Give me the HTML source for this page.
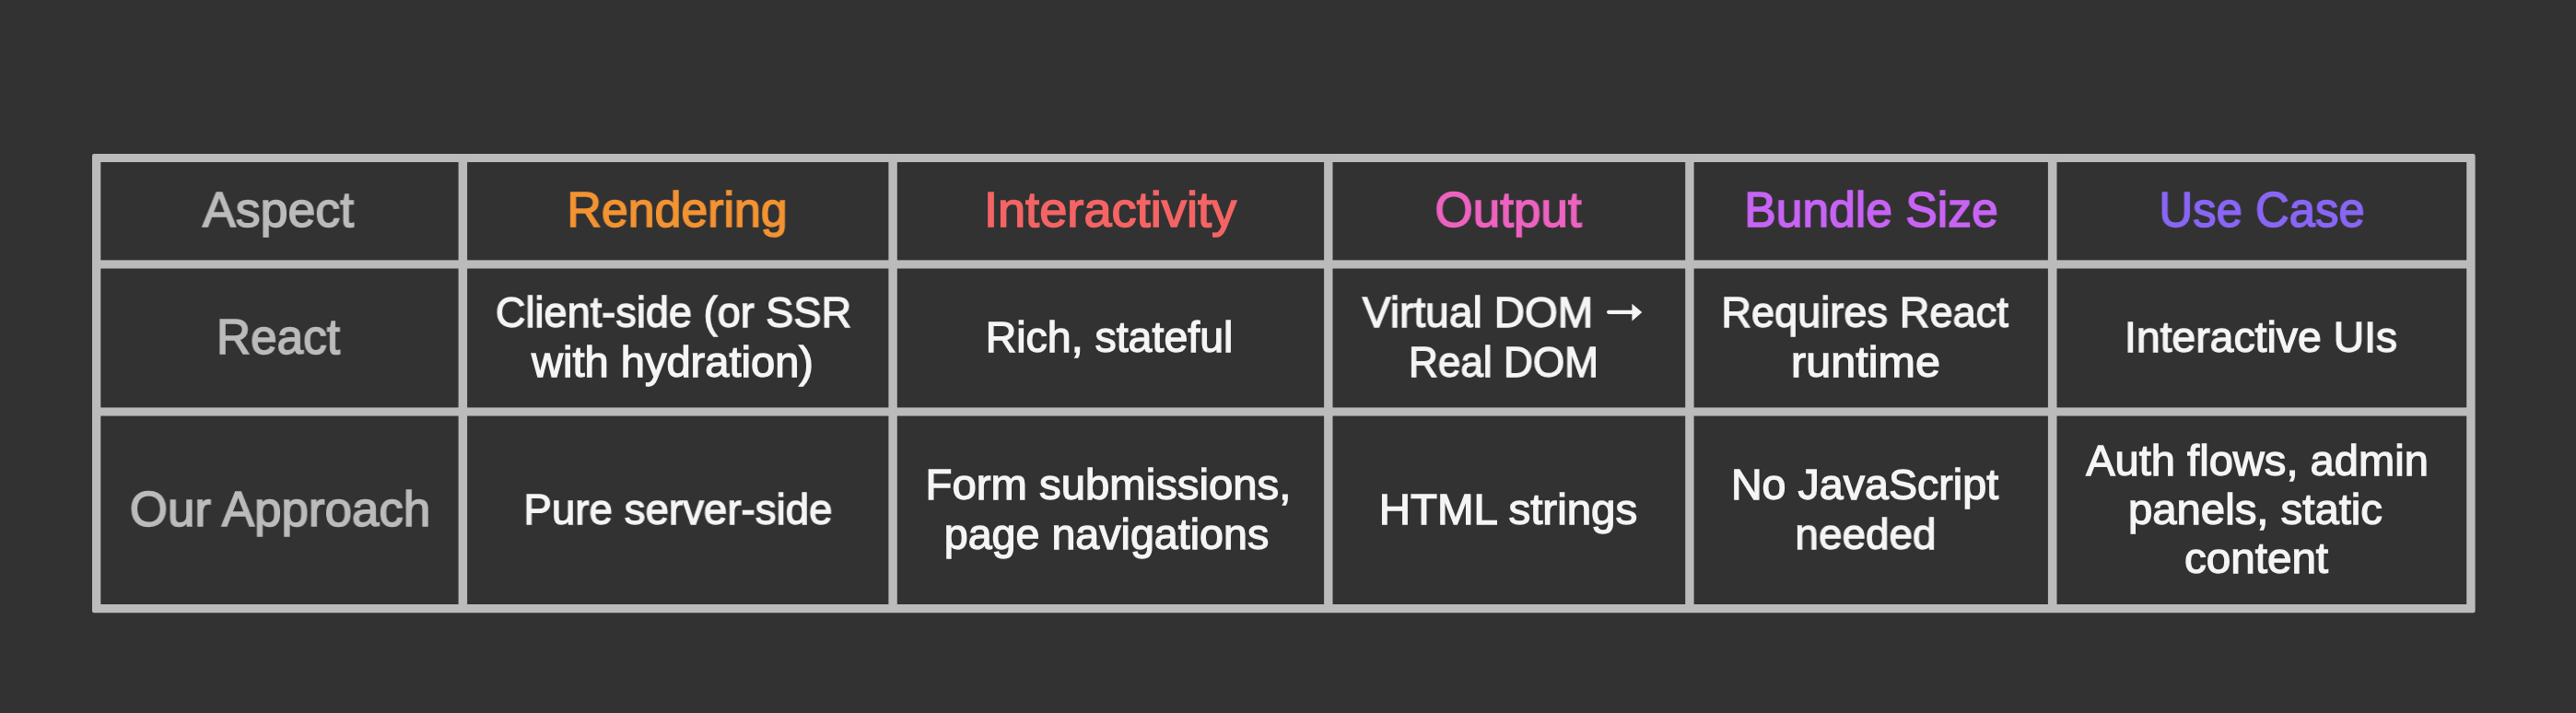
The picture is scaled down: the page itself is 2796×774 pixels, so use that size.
<!DOCTYPE html>
<html><head><meta charset="utf-8"><style>
html,body{margin:0;padding:0;}
body{width:2796px;height:774px;background:#323232;position:relative;overflow:hidden;font-family:"Liberation Sans",sans-serif;}
#wrap{position:absolute;left:0;top:0;width:2796px;height:774px;}
.v,.h{position:absolute;background:#bbbbbb;}
.t{position:absolute;width:1000px;text-align:center;white-space:pre;line-height:100px;height:100px;will-change:transform;-webkit-text-stroke:1.0px currentColor;}
.H{font-size:54.0px;-webkit-text-stroke-width:1.6px;}
.B{font-size:46.4px;-webkit-text-stroke-width:1.3px;}
</style></head><body><div id="wrap">

<svg style="position:absolute;left:0;top:0" width="2796" height="774" fill="#bbbbbb"><path fill-rule="evenodd" d="M102.0 167.0 H2684.6 Q2686.6 167.0 2686.6 169.0 V663.2 Q2686.6 665.2 2684.6 665.2 H102.0 Q100.0 665.2 100.0 663.2 V169.0 Q100.0 167.0 102.0 167.0 Z M109.3 176.1 H2677.2 V656.1 H109.3 Z"/><rect x="497.6" y="172.1" width="9.50" height="488.00"/><rect x="964.4" y="172.1" width="9.40" height="488.00"/><rect x="1437.1" y="172.1" width="9.40" height="488.00"/><rect x="1829.2" y="172.1" width="9.40" height="488.00"/><rect x="2222.9" y="172.1" width="9.60" height="488.00"/><rect x="105.3" y="282.4" width="2575.90" height="9.10"/><rect x="105.3" y="442.4" width="2575.90" height="9.10"/></svg>
<div class="t H" id="t0" style="left:-197.80px;top:177.00px;color:#bbbbbb;transform:scaleX(0.9948)"><span>Aspect</span><i style="display:inline-block;width:0;height:0;vertical-align:baseline"></i></div>
<div class="t H" id="t1" style="left:235.20px;top:177.00px;color:#f39332;transform:scaleX(0.9607)"><span>Rendering</span><i style="display:inline-block;width:0;height:0;vertical-align:baseline"></i></div>
<div class="t H" id="t2" style="left:704.70px;top:177.01px;color:#f56464;transform:scaleX(1.0041)"><span>Interactivity</span><i style="display:inline-block;width:0;height:0;vertical-align:baseline"></i></div>
<div class="t H" id="t3" style="left:1136.90px;top:177.00px;color:#ee62c0;transform:scaleX(0.9826)"><span>Output</span><i style="display:inline-block;width:0;height:0;vertical-align:baseline"></i></div>
<div class="t H" id="t4" style="left:1531.10px;top:177.01px;color:#c864f5;transform:scaleX(0.9563)"><span>Bundle Size</span><i style="display:inline-block;width:0;height:0;vertical-align:baseline"></i></div>
<div class="t H" id="t5" style="left:1955.00px;top:177.00px;color:#8966f5;transform:scaleX(0.9421)"><span>Use Case</span><i style="display:inline-block;width:0;height:0;vertical-align:baseline"></i></div>
<div class="t H" id="t6" style="left:-198.10px;top:315.00px;color:#bbbbbb;transform:scaleX(0.9512)"><span>React</span><i style="display:inline-block;width:0;height:0;vertical-align:baseline"></i></div>
<div class="t B" id="t7" style="left:230.50px;top:289.01px;color:#f5f5f5;transform:scaleX(0.9730)"><span>Client-side (or SSR</span><i style="display:inline-block;width:0;height:0;vertical-align:baseline"></i></div>
<div class="t B" id="t8" style="left:229.70px;top:343.01px;color:#f5f5f5;transform:scaleX(1.0146)"><span>with hydration)</span><i style="display:inline-block;width:0;height:0;vertical-align:baseline"></i></div>
<div class="t B" id="t9" style="left:704.00px;top:316.00px;color:#f5f5f5;transform:scaleX(1.0018)"><span>Rich, stateful</span><i style="display:inline-block;width:0;height:0;vertical-align:baseline"></i></div>
<div class="t B" id="t10" style="left:1103.70px;top:289.01px;color:#f5f5f5;transform:scaleX(0.9941)"><span>Virtual DOM</span><i style="display:inline-block;width:0;height:0;vertical-align:baseline"></i></div>
<div class="t B" id="t11" style="left:1131.80px;top:343.01px;color:#f5f5f5;transform:scaleX(0.9519)"><span>Real DOM</span><i style="display:inline-block;width:0;height:0;vertical-align:baseline"></i></div>
<div class="t B" id="t12" style="left:1524.00px;top:289.01px;color:#f5f5f5;transform:scaleX(0.9747)"><span>Requires React</span><i style="display:inline-block;width:0;height:0;vertical-align:baseline"></i></div>
<div class="t B" id="t13" style="left:1525.00px;top:343.01px;color:#f5f5f5;transform:scaleX(1.0460)"><span>runtime</span><i style="display:inline-block;width:0;height:0;vertical-align:baseline"></i></div>
<div class="t B" id="t14" style="left:1954.20px;top:316.01px;color:#f5f5f5;transform:scaleX(0.9987)"><span>Interactive UIs</span><i style="display:inline-block;width:0;height:0;vertical-align:baseline"></i></div>
<div class="t H" id="t15" style="left:-196.00px;top:502.01px;color:#bbbbbb;transform:scaleX(0.9802)"><span>Our Approach</span><i style="display:inline-block;width:0;height:0;vertical-align:baseline"></i></div>
<div class="t B" id="t16" style="left:236.00px;top:503.01px;color:#f5f5f5;transform:scaleX(0.9848)"><span>Pure server-side</span><i style="display:inline-block;width:0;height:0;vertical-align:baseline"></i></div>
<div class="t B" id="t17" style="left:702.50px;top:476.00px;color:#f5f5f5;transform:scaleX(1.0193)"><span>Form submissions,</span><i style="display:inline-block;width:0;height:0;vertical-align:baseline"></i></div>
<div class="t B" id="t18" style="left:701.10px;top:530.00px;color:#f5f5f5;transform:scaleX(1.0046)"><span>page navigations</span><i style="display:inline-block;width:0;height:0;vertical-align:baseline"></i></div>
<div class="t B" id="t19" style="left:1137.40px;top:503.00px;color:#f5f5f5;transform:scaleX(1.0231)"><span>HTML strings</span><i style="display:inline-block;width:0;height:0;vertical-align:baseline"></i></div>
<div class="t B" id="t20" style="left:1523.70px;top:476.00px;color:#f5f5f5;transform:scaleX(1.0050)"><span>No JavaScript</span><i style="display:inline-block;width:0;height:0;vertical-align:baseline"></i></div>
<div class="t B" id="t21" style="left:1525.00px;top:530.00px;color:#f5f5f5;transform:scaleX(0.9892)"><span>needed</span><i style="display:inline-block;width:0;height:0;vertical-align:baseline"></i></div>
<div class="t B" id="t22" style="left:1950.00px;top:450.01px;color:#f5f5f5;transform:scaleX(1.0151)"><span>Auth flows, admin</span><i style="display:inline-block;width:0;height:0;vertical-align:baseline"></i></div>
<div class="t B" id="t23" style="left:1948.40px;top:503.00px;color:#f5f5f5;transform:scaleX(1.0196)"><span>panels, static</span><i style="display:inline-block;width:0;height:0;vertical-align:baseline"></i></div>
<div class="t B" id="t24" style="left:1948.90px;top:556.00px;color:#f5f5f5;transform:scaleX(1.0266)"><span>content</span><i style="display:inline-block;width:0;height:0;vertical-align:baseline"></i></div>
<svg style="position:absolute;left:0;top:0;will-change:transform" width="2796" height="774"><path fill="#f5f5f5" d="M1746.1 336.7 L1772 336.7 L1772 340.9 L1746.1 340.9 Q1744 340.9 1744 338.8 Q1744 336.7 1746.1 336.7 Z M1771.4 329.7 L1782.3 339.0 L1771.4 348.4 Z"/></svg>
</div></body></html>
